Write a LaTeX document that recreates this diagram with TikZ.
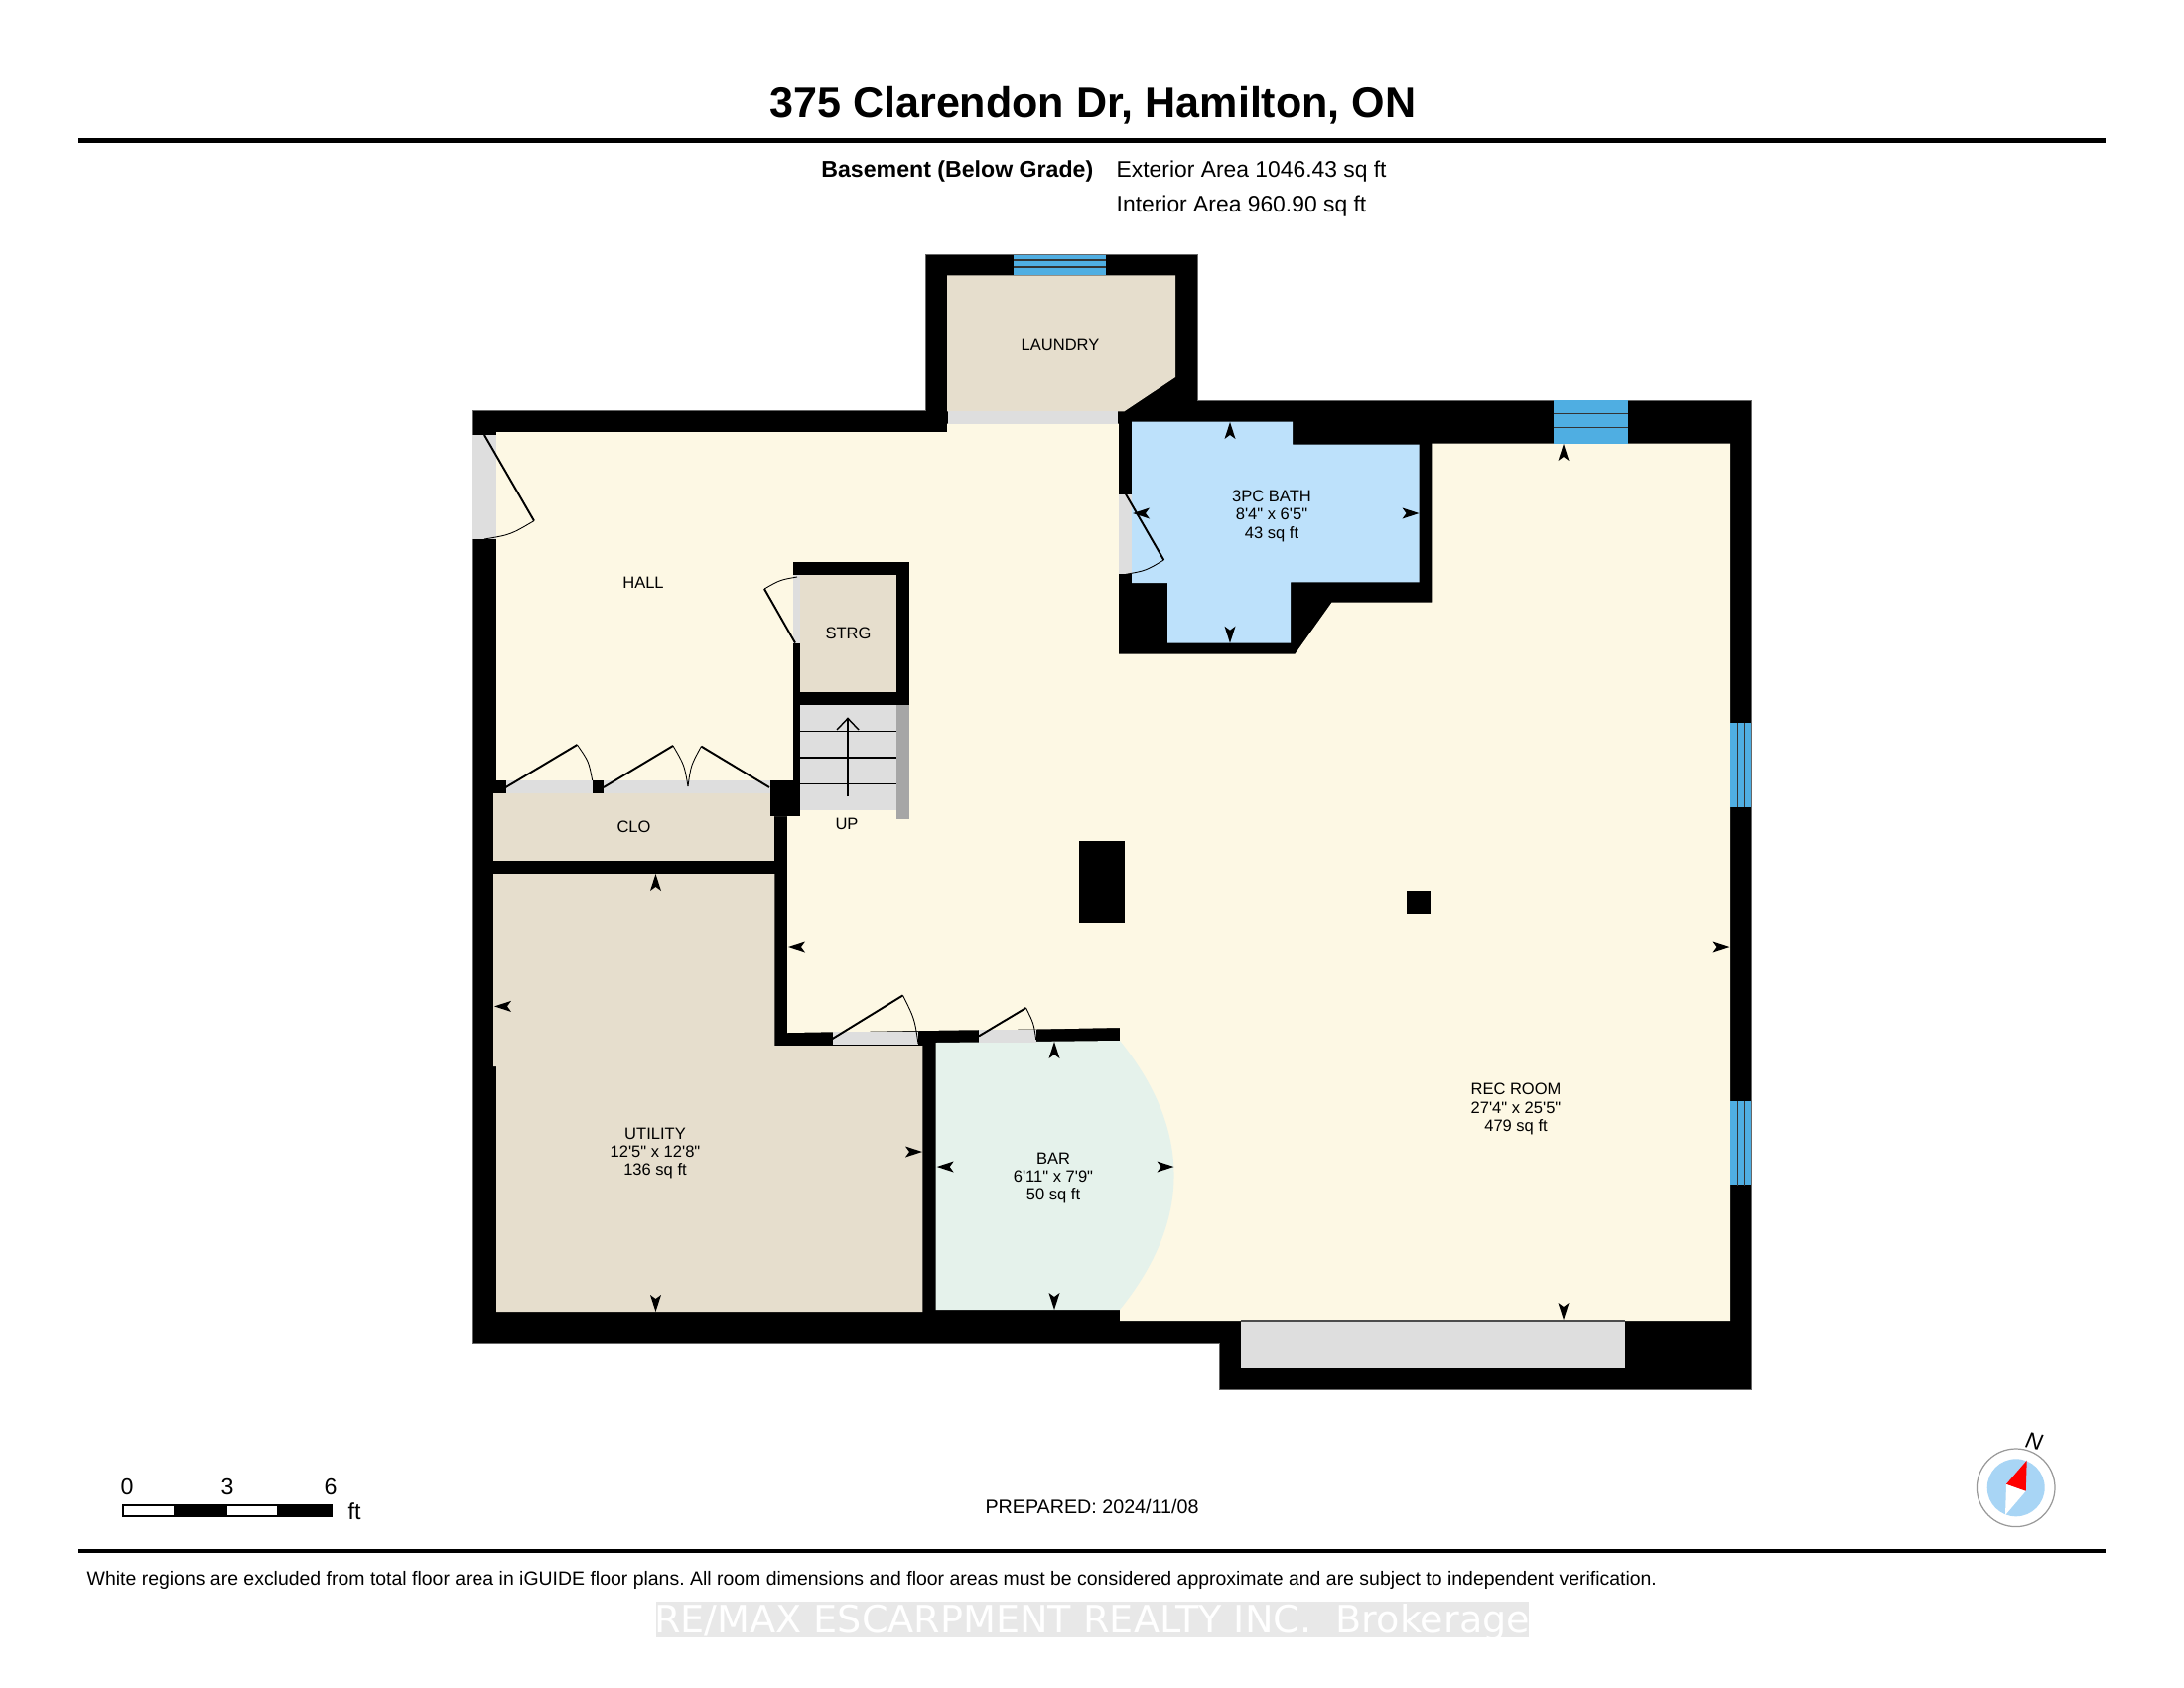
\documentclass[tikz,border=0pt]{standalone}
\usepackage{fontspec}
\setmainfont[Ligatures=TeXOff]{Liberation Sans}
\newfontfamily\markfont{DejaVu Sans}
\usetikzlibrary{calc}

\begin{document}
\begin{tikzpicture}[
		x=0.01cm, y=-0.01cm,
		every node/.style={inner sep=0pt, align=center},
		roomlabel/.style={font=\fontsize{4.7}{5.25}\selectfont},
		wall/.style={fill=black},
		hallfloor/.style={fill=cream},
		dryfloor/.style={fill=sand},
		bathfloor/.style={fill=bathblue},
		barfloor/.style={fill=barmint},
		doorway/.style={fill=doorgray},
		glazing/.style={fill=glassblue},
		glassline/.style={line width=0.3pt, draw=black!80},
		doorleaf/.style={line width=0.55pt},
		doorswing/.style={line width=0.25pt},
		tipmark/.style={fill=black},
		heavyrule/.style={line width=1.15pt}
		]
		\definecolor{cream}{HTML}{FDF8E4}
		\definecolor{sand}{HTML}{E6DECD}
		\definecolor{bathblue}{HTML}{BDE1FB}
		\definecolor{barmint}{HTML}{E5F2EB}
		\definecolor{doorgray}{HTML}{DEDEDE}
		\definecolor{glassblue}{HTML}{4FAEE2}
		\definecolor{compassblue}{HTML}{A8D5F5}

		\useasboundingbox (0,0) rectangle (2200,1700);

		\node (title) at (1101,106.5) {\fontsize{12.25}{14}\selectfont\bfseries 375 Clarendon Dr, Hamilton, ON};
		\coordinate (ruleA) at (79,141.5);
		\coordinate (ruleB) at (2121,141.5);
		\draw[heavyrule] (ruleA) -- (ruleB);
		\node[anchor=east] (level) at (1102,172.5) {\fontsize{6.58}{8}\selectfont\bfseries Basement (Below Grade)};
		\node[anchor=west] (extarea) at (1124,172.5) {\fontsize{6.5}{8}\selectfont Exterior Area 1046.43 sq ft};
		\node[anchor=west] (intarea) at (1124,207.5) {\fontsize{6.5}{8}\selectfont Interior Area 960.90 sq ft};

		% walls as one solid, floors on top
		\draw[wall, draw=black!60, line width=0.2pt] (475,413.4) -- (932.5,413.4) -- (932.5,256.6) -- (1206,256.6) -- (1206,403.3) -- (1764,403.3) -- (1764,1399) -- (1228.5,1399) -- (1228.5,1353) -- (475,1353) -- cycle;
		\fill[hallfloor] (500,435) -- (954,435) -- (954,426.7) -- (1126.8,426.7) -- (1126.8,658.7) -- (1304.5,658.7) -- (1341.5,606.7) -- (1442.4,606.7) -- (1442.4,446.7) -- (1743,446.7) -- (1743,1330) -- (1128,1330) -- (1128,1035) -- (1044,1036.5) -- (925,1038) -- (793,1040) -- (793,822) -- (776,822) -- (776,786) -- (500,786) -- cycle;
		\fill[dryfloor] (954,277.3) -- (1184,277.3) -- (1184,380) -- (1132.5,414.3) -- (954,414.3) -- cycle;
		\fill[bathfloor] (1140,424.7) -- (1302,424.7) -- (1302,447.7) -- (1429.5,447.7) -- (1429.5,586.3) -- (1300,586.3) -- (1300,647.7) -- (1176,647.7) -- (1176,587) -- (1140,587) -- cycle;
		\fill[dryfloor] (497,799) rectangle (780.4,867);
		\fill[dryfloor] (497,880) -- (780.4,880) -- (780.4,1053) -- (929.4,1053) -- (929.4,1321) -- (500,1321) -- (500,1074) -- (497,1074) -- cycle;
		\fill[barfloor] (942.6,1050) -- (1128,1048) .. controls (1200.7,1138) and (1200.7,1229) .. (1128,1319) -- (942.6,1319) -- cycle;

		% storage, stairs
		\fill[wall] (799,565.7) rectangle (915.6,710);
		\fill[wall] (799,647) rectangle (806,822);
		\fill[wall] (776,786) rectangle (806,822);
		\fill[dryfloor] (806,579) rectangle (903,697);
		\fill[doorway] (806,710) rectangle (903,816);
		\fill[black!35] (903,710) rectangle (916,825);
		\foreach \y in {736.7,763,789.4}
			\draw[line width=0.4pt] (806,\y) -- (903,\y);
		\coordinate (upfoot) at (854,802);
		\coordinate (uptip) at (854,723.4);
		\draw[line width=0.4pt] (upfoot) -- (uptip);
		\draw[line width=0.4pt] (843,735) -- (uptip) -- (865,735);

		% door openings
		\fill[doorway] (955,414.3) rectangle (1126,426.7);
		\fill[doorway] (475,438) rectangle (500,543);
		\fill[doorway] (799,579) rectangle (806,647.5);
		\fill[doorway] (1126.8,497.7) rectangle (1140,578.3);
		\fill[doorway] (509.5,786) rectangle (776,799);
		\fill[wall] (597,786) rectangle (608,799);
		\fill[wall] (497,786) rectangle (509.5,799);
		\fill[doorway] (838.6,1038.6) rectangle (925,1052);
		\fill[doorway] (985.5,1036.5) rectangle (1044,1050);
		\fill[doorway] (1249.6,1330) rectangle (1637,1377.7);
		\draw[line width=0.3pt, draw=black!70] (1249.6,1330) -- (1637,1330);

		% windows
		\fill[glazing] (1021,256.6) rectangle (1114,277.3);
		\fill[glazing] (1564.7,403.3) rectangle (1640,446.7);
		\fill[glazing] (1743,728) rectangle (1764,812.7);
		\fill[glazing] (1743,1109) rectangle (1764,1193.3);
		\foreach \y in {262,269}
			\draw[glassline] (1021,\y) -- (1114,\y);
		\foreach \y in {416.7,430.3}
			\draw[glassline] (1564.7,\y) -- (1640,\y);
		\foreach \y in {728,1109}
			\foreach \x in {1750.7,1757.3}
				\draw[glassline] (\x,\y) -- (\x,\y+84.5);

		% columns
		\fill[wall] (1086.5,847) rectangle (1132.5,930);
		\fill[wall] (1417.3,897) rectangle (1440.7,920);

		% doors: hinge, leaf end, swing end
		\foreach \ax/\ay/\bx/\by/\cx/\cy in {
			488/438/538/524.6/488/543,
			801/647.5/770/593/803/581,
			1134/497.7/1172.3/564/1134/578.3,
			509.5/793/581.4/750/596.7/786,
			608/793/678/751/693/792,
			775/793/706.4/751.6/693/792,
			838.6/1046/909.5/1002.4/925/1051,
			986/1043.4/1033.5/1015/1043.7/1047}
		{
			\draw[doorleaf] (\ax,\ay) -- (\bx,\by);
			\draw[doorswing] (\bx,\by) .. controls ($($(\bx,\by)!.5!(\cx,\cy)$)!-0.05!(\ax,\ay)$) .. (\cx,\cy);
		}

		% dimension tips: position, direction
		\foreach \x/\y/\a in {
			1239/425/90, 1239/647.7/-90, 1141/517/180, 1429.5/517/0,
			1575/447/90, 1575/1329/-90, 1742.5/954/0, 794/954/180,
			660.5/880/90, 660.5/1321/-90, 498/1013.4/180, 929/1160/0,
			1062/1049/90, 1062/1319/-90, 943.7/1175/180, 1182.5/1175/0}
			\fill[tipmark, shift={(\x,\y)}, rotate=\a] (0,0) -- (-17,5.5) -- (-13,0) -- (-17,-5.5) -- cycle;

		\node[roomlabel] (laundry) at (1068,346.5) {LAUNDRY};
		\node[roomlabel] (hall) at (648,586.5) {HALL};
		\node[roomlabel] (strg) at (854.5,638) {STRG};
		\node[roomlabel] (up) at (853,829.5) {UP};
		\node[roomlabel] (clo) at (638.5,833) {CLO};
		\node[roomlabel] (bath) at (1281,519.5) {3PC BATH\\8'4" x 6'5"\\43 sq ft};
		\node[roomlabel] (utility) at (660,1161.5) {UTILITY\\12'5" x 12'8"\\136 sq ft};
		\node[roomlabel] (bar) at (1061,1186.5) {BAR\\6'11" x 7'9"\\50 sq ft};
		\node[roomlabel] (recroom) at (1527,1117) {REC ROOM\\27'4" x 25'5"\\479 sq ft};

		% scale bar
		\draw[line width=0.3pt, fill=white] (124,1516) rectangle (334,1527);
		\fill[black] (175,1516) rectangle (229,1527);
		\fill[black] (279,1516) rectangle (334,1527);
		\node (scalezero) at (128,1497.5) {\fontsize{6.6}{8}\selectfont 0};
		\node (scalethree) at (229,1497.5) {\fontsize{6.6}{8}\selectfont 3};
		\node (scalesix) at (333,1497.5) {\fontsize{6.6}{8}\selectfont 6};
		\node (scaleunit) at (357,1522) {\fontsize{6.6}{8}\selectfont ft};

		\node (prepared) at (1100,1517) {\fontsize{5.6}{7}\selectfont PREPARED: 2024/11/08};

		% compass
		\draw[line width=0.35pt, draw=black!40, fill=white] (2030.7,1498.3) circle (39.3);
		\fill[compassblue] (2030.7,1498.3) circle (29);
		\fill[white] (2021,1494.7) -- (2040.7,1501.7) -- (2020,1526) -- cycle;
		\fill[red] (2041.7,1470.7) -- (2021,1494.7) -- (2040.7,1501.7) -- cycle;
		\node[rotate=-12] (north) at (2049,1452) {\fontsize{6.5}{8}\selectfont\itshape N};

		\coordinate (ruleC) at (79,1562);
		\coordinate (ruleD) at (2121,1562);
		\draw[heavyrule] (ruleC) -- (ruleD);
		\node[anchor=west] (disclaimer) at (87,1591) {\frenchspacing\fontsize{5.53}{7}\selectfont White regions are excluded from total floor area in iGUIDE floor plans. All room dimensions and floor areas must be considered approximate and are subject to independent verification.};

		\fill[black!9] (660.5,1613) rectangle (1540,1649);
		\node[text=white] (watermark) at (1100,1634) {\fontsize{10.85}{12}\selectfont\markfont RE/MAX ESCARPMENT REALTY INC.\ \ Brokerage};
\end{tikzpicture}
\end{document}
